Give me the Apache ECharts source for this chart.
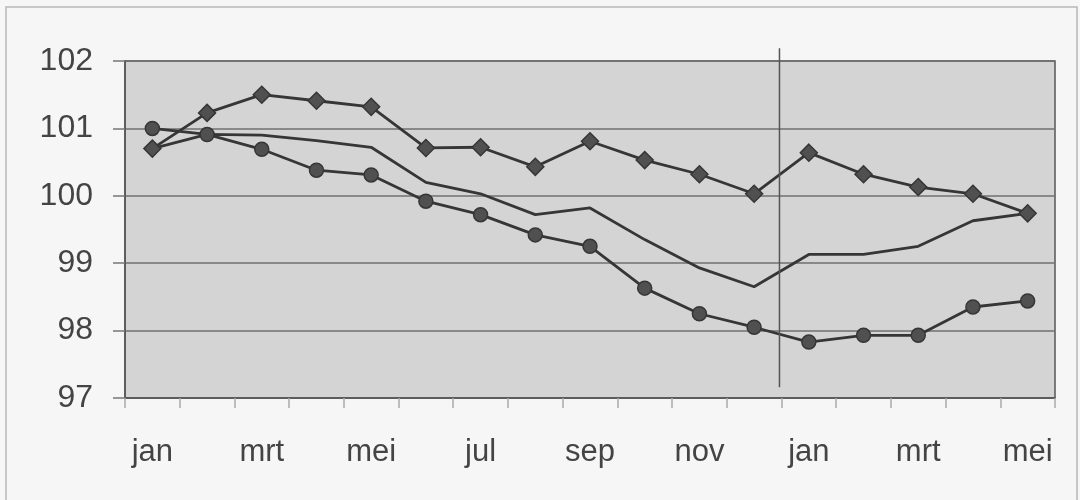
<!DOCTYPE html>
<html>
<head>
<meta charset="utf-8">
<script src="https://cdn.jsdelivr.net/npm/echarts@6/dist/echarts.min.js"></script>
<style>
html,body{margin:0;padding:0;background:#f6f6f6;}
#c{width:1080px;height:500px;}
</style>
</head>
<body>
<div id="c"></div>
<script>
const categories = ['jan','feb','mrt','apr','mei','jun','jul','aug','sep','okt','nov','dec','jan','feb','mrt','apr','mei'];
const diamondSeries = [100.70, 101.23, 101.50, 101.41, 101.32, 100.71, 100.72, 100.43, 100.81, 100.53, 100.32, 100.03, 100.64, 100.32, 100.13, 100.03, 99.74];
const middleSeries  = [100.70, 100.91, 100.90, 100.82, 100.72, 100.20, 100.03, 99.72, 99.82, 99.35, 98.93, 98.65, 99.13, 99.13, 99.25, 99.63, 99.74];
const circleSeries  = [101.00, 100.91, 100.69, 100.38, 100.31, 99.92, 99.72, 99.42, 99.25, 98.63, 98.25, 98.05, 97.83, 97.93, 97.93, 98.35, 98.44];
const yTicks = [97, 98, 99, 100, 101, 102];
const dividerAfterIndex = 11;

const chart = echarts.init(document.getElementById('c'), null, {renderer: 'canvas'});
const lineColor = '#363636';
const fontFamily = 'Liberation Sans, Arial, sans-serif';

chart.setOption({
  backgroundColor: '#f6f6f6',
  animation: false,
  grid: {
    left: 125, right: 25, top: 61, bottom: 102,
    show: true, backgroundColor: '#d4d4d4', borderColor: '#555', borderWidth: 1.5
  },
  xAxis: {
    type: 'category',
    data: categories,
    boundaryGap: true,
    axisLine: {show: true, lineStyle: {color: '#555', width: 1.5}},
    axisTick: {show: true, interval: 0, length: 10, lineStyle: {color: '#aaa', width: 1.5}},
    axisLabel: {interval: 1, fontSize: 31, color: '#444', fontFamily: fontFamily, margin: 39},
    splitLine: {show: false}
  },
  yAxis: {
    type: 'value',
    min: yTicks[0], max: yTicks[yTicks.length - 1], interval: 1,
    axisLine: {show: true, lineStyle: {color: '#555', width: 1.5}},
    axisTick: {show: true, length: 12, lineStyle: {color: '#777', width: 1.5}},
    axisLabel: {fontSize: 32, color: '#444', fontFamily: fontFamily, margin: 32},
    splitLine: {show: true, lineStyle: {color: '#707070', width: 1.5}}
  },
  series: [
    {
      type: 'line', data: middleSeries, symbol: 'none',
      lineStyle: {color: lineColor, width: 2.8}, z: 2
    },
    {
      type: 'line', data: diamondSeries, symbol: 'diamond', symbolSize: 17,
      lineStyle: {color: lineColor, width: 2.8},
      itemStyle: {color: '#505050', borderColor: '#363636', borderWidth: 1.5}, z: 3
    },
    {
      type: 'line', data: circleSeries, symbol: 'circle', symbolSize: 14,
      lineStyle: {color: lineColor, width: 2.8},
      itemStyle: {color: '#505050', borderColor: '#363636', borderWidth: 1.5}, z: 3
    }
  ]
});

const xa = chart.convertToPixel({xAxisIndex: 0}, dividerAfterIndex);
const xb = chart.convertToPixel({xAxisIndex: 0}, dividerAfterIndex + 1);
const xDiv = (xa + xb) / 2 - 2;
const yTop = chart.convertToPixel({yAxisIndex: 0}, 102.19);
const yBot = chart.convertToPixel({yAxisIndex: 0}, 97.16);

chart.setOption({
  graphic: [
    {type: 'rect', shape: {x: 6, y: 7, width: 1071, height: 520},
     style: {fill: 'none', stroke: '#b8b8b8', lineWidth: 1.5}, silent: true, z: 0},
    {type: 'line', shape: {x1: xDiv, y1: yTop, x2: xDiv, y2: yBot},
     style: {stroke: '#555', lineWidth: 1.5}, silent: true, z: 10}
  ]
});
</script>
</body>
</html>
